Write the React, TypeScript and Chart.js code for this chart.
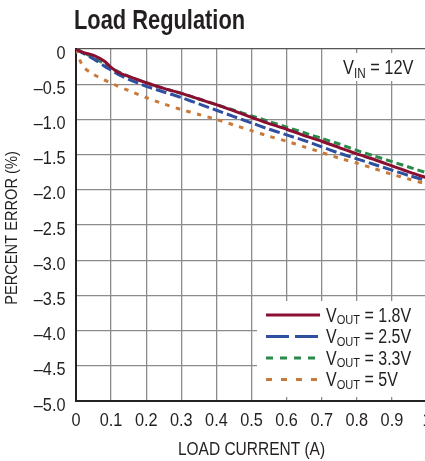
import { useEffect, useRef } from "react";
import { Chart, registerables } from "chart.js";
Chart.register(...registerables);

const loadCurrent = [0, 0.02, 0.05, 0.08, 0.1, 0.12, 0.15, 0.2, 0.25, 0.3, 0.35, 0.4, 0.45, 0.5, 0.55, 0.6, 0.65, 0.7, 0.75, 0.8, 0.85, 0.9, 0.95, 1.0];
const vout18 = [0, -0.05, -0.09, -0.17, -0.26, -0.33, -0.39, -0.48, -0.56, -0.63, -0.71, -0.79, -0.88, -0.97, -1.06, -1.14, -1.23, -1.31, -1.4, -1.49, -1.57, -1.66, -1.75, -1.83];
const vout25 = [0, -0.06, -0.14, -0.24, -0.3, -0.36, -0.43, -0.53, -0.61, -0.69, -0.78, -0.87, -0.96, -1.05, -1.14, -1.22, -1.3, -1.39, -1.48, -1.56, -1.64, -1.72, -1.8, -1.87];
const vout33 = [0, -0.05, -0.12, -0.21, -0.27, -0.32, -0.39, -0.48, -0.56, -0.63, -0.71, -0.79, -0.87, -0.95, -1.03, -1.11, -1.19, -1.27, -1.35, -1.44, -1.52, -1.6, -1.68, -1.76];
const vout50 = [0, -0.25, -0.36, -0.44, -0.48, -0.53, -0.59, -0.69, -0.78, -0.86, -0.93, -1.0, -1.08, -1.16, -1.24, -1.31, -1.39, -1.47, -1.55, -1.62, -1.7, -1.78, -1.85, -1.92];

const seriesValues = ["1.8V", "2.5V", "3.3V", "5V"];
const xTickLabels = ["0", "0.1", "0.2", "0.3", "0.4", "0.5", "0.6", "0.7", "0.8", "0.9", "1"];
const yTickLabels = ["0", "–0.5", "–1.0", "–1.5", "–2.0", "–2.5", "–3.0", "–3.5", "–4.0", "–4.5", "–5.0"];
const titleText = "Load Regulation";
const xTitle = "LOAD CURRENT (A)";
const yTitle = "PERCENT ERROR (%)";
const vinText = "12V";

const colors = ["#8a0f32", "#2f4f9f", "#2a8a4a", "#c97a3a"];
const dashes = [[], [11, 4], [7, 4], [4.5, 6.5]];
const legendDashes = [[], [23, 6], [7, 7], [6, 9]];

const FAM = '"Liberation Sans", Arial, sans-serif';
const TEXT = "#231f20";

function drawScaled(ctx, text, x, y, font, sx, align) {
  ctx.save();
  ctx.translate(x, y);
  ctx.scale(sx, 1);
  ctx.font = font;
  ctx.textAlign = align;
  ctx.textBaseline = "alphabetic";
  ctx.fillStyle = TEXT;
  ctx.fillText(text, 0, 0);
  ctx.restore();
}

function drawRich(ctx, x, baseline, parts, sx) {
  let cx = x;
  for (const p of parts) {
    const font = `${p.size}px ${FAM}`;
    ctx.save();
    ctx.font = font;
    const w = ctx.measureText(p.t).width * sx;
    ctx.restore();
    drawScaled(ctx, p.t, cx, baseline + (p.dy || 0), font, sx, "left");
    cx += w;
  }
}

const textPlugin = {
  id: "textPlugin",
  afterDraw(chart) {
    const ctx = chart.ctx;
    const xs = chart.scales.x;
    const ys = chart.scales.y;
    const area = chart.chartArea;

    // title
    drawScaled(ctx, titleText, 74, 28.5, `bold 28px ${FAM}`, 0.78, "left");

    // tick labels
    for (const lab of xTickLabels) {
      const px = xs.getPixelForValue(parseFloat(lab));
      drawScaled(ctx, lab, px, 426, `18.5px ${FAM}`, 0.88, "center");
    }
    for (const lab of yTickLabels) {
      const py = ys.getPixelForValue(parseFloat(lab.replace("–", "-")));
      drawScaled(ctx, lab, area.left - 10.5, py + 9.5, `18.5px ${FAM}`, 0.88, "right");
    }

    // axis titles
    drawScaled(ctx, xTitle, (area.left + area.right) / 2, 455, `18px ${FAM}`, 0.86, "center");
    ctx.save();
    ctx.translate(16.5, 228);
    ctx.rotate(-Math.PI / 2);
    drawScaled(ctx, yTitle, 0, 0, `17px ${FAM}`, 0.86, "center");
    ctx.restore();

    // VIN annotation
    ctx.save();
    ctx.fillStyle = "#fff";
    ctx.fillRect(338, 53, area.right - 338, 28);
    ctx.restore();
    drawRich(ctx, 343, 74, [
      { t: "V", size: 19.5 },
      { t: "IN", size: 14, dy: 3.5 },
      { t: " = " + vinText, size: 19.5 },
    ], 0.84);

    // legend
    ctx.save();
    ctx.fillStyle = "#fff";
    ctx.fillRect(257, 301, area.right - 257, 96);
    ctx.restore();
    seriesValues.forEach((v, i) => {
      const y = 315 + i * 21.5;
      ctx.save();
      ctx.strokeStyle = colors[i];
      ctx.lineWidth = 3;
      ctx.setLineDash(legendDashes[i]);
      ctx.beginPath();
      ctx.moveTo(266, y);
      ctx.lineTo(320, y);
      ctx.stroke();
      ctx.restore();
      drawRich(ctx, 326, y + 6.5, [
        { t: "V", size: 19.5 },
        { t: "OUT", size: 13.5, dy: 2.8 },
        { t: " = " + v, size: 19.5 },
      ], 0.82);
    });
  },
};

export default function App() {
  const ref = useRef(null);
  useEffect(() => {
    const series = [vout18, vout25, vout33, vout50];
    const chart = new Chart(ref.current, {
      type: "line",
      data: {
        datasets: series.map((vals, i) => ({
          label: "VOUT = " + seriesValues[i],
          data: loadCurrent.map((x, j) => ({ x, y: vals[j] })),
          borderColor: colors[i],
          borderWidth: 3,
          borderDash: dashes[i],
          pointRadius: 0,
          tension: 0.25,
          fill: false,
        })),
      },
      options: {
        responsive: false,
        animation: false,
        layout: { padding: { top: 49, right: 13, left: 0, bottom: 0 } },
        plugins: { legend: { display: false }, tooltip: { enabled: false }, title: { display: false } },
        scales: {
          x: {
            type: "linear",
            min: 0,
            max: 1,
            ticks: { display: false, stepSize: 0.1 },
            grid: { color: "#8c8c8c", lineWidth: 1.3, drawTicks: false },
            border: { color: "#222", width: 2 },
            afterFit: (s) => { s.height = 60; },
          },
          y: {
            type: "linear",
            min: -5,
            max: 0,
            ticks: { display: false, stepSize: 0.5 },
            grid: {
              color: (c) => (c.tick && c.tick.value === 0 ? "#555" : "#8c8c8c"),
              lineWidth: 1.3,
              drawTicks: false,
            },
            border: { color: "#222", width: 2 },
            afterFit: (s) => { s.width = 76; },
          },
        },
      },
      plugins: [textPlugin],
    });
    return () => chart.destroy();
  }, []);
  return (
    <div style={{ position: "fixed", left: 0, top: 0, width: 425, height: 461, overflow: "hidden", background: "#fff" }}>
      <canvas ref={ref} width={440} height={461} style={{ display: "block" }} />
    </div>
  );
}
